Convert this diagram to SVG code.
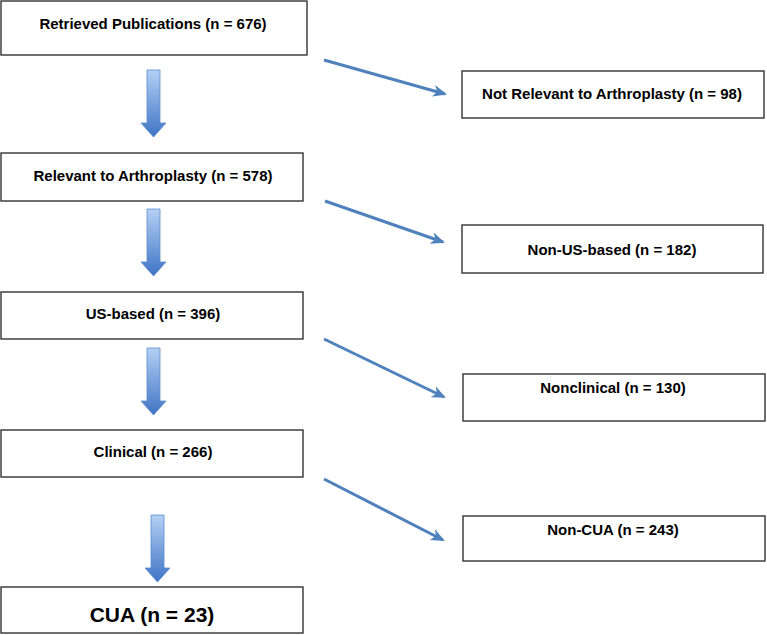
<svg xmlns="http://www.w3.org/2000/svg" width="767" height="635" viewBox="0 0 767 635">
<defs>
<linearGradient id="g" x1="0" y1="0" x2="0" y2="1">
<stop offset="0" stop-color="#b4d0f4"/>
<stop offset="1" stop-color="#3f74c4"/>
</linearGradient>
<marker id="ah" markerWidth="14" markerHeight="12" refX="12" refY="6" orient="auto" markerUnits="userSpaceOnUse" viewBox="0 0 14 12">
<path d="M0,0 L14,6 L0,12 L4,6 Z" fill="#4f81bd"/>
</marker>
<g id="down">
<path d="M-6.5,0 H6.5 V53 H12.5 L0,67 L-12.5,53 H-6.5 Z" fill="url(#g)" stroke="#5b8ad0" stroke-width="0.8"/>
</g>
</defs>
<style>
rect{fill:#fff;stroke:#333;stroke-width:1.4}
text{font-family:"Liberation Sans",Arial,sans-serif;font-weight:bold;font-size:15px;fill:#000;text-anchor:middle}
.diag{stroke:#4f81bd;stroke-width:3;fill:none;marker-end:url(#ah)}
</style>
<rect width="767" height="635" style="fill:#fff;stroke:none"/>
<g id="n1"><rect x="1" y="1" width="306" height="54"/><text x="153" y="29">Retrieved Publications (n = 676)</text></g>
<g id="n2"><rect x="1" y="153" width="302" height="48"/><text x="153" y="181">Relevant to Arthroplasty (n = 578)</text></g>
<g id="n3"><rect x="1" y="292" width="302" height="47"/><text x="153" y="319">US-based (n = 396)</text></g>
<g id="n4"><rect x="1" y="430" width="302" height="47"/><text x="153" y="457">Clinical (n = 266)</text></g>
<g id="n5"><rect x="1" y="587" width="302" height="46"/><text x="152" y="622" style="font-size:21px">CUA (n = 23)</text></g>
<g id="r1"><rect x="462" y="71" width="302" height="47"/><text x="612" y="99">Not Relevant to Arthroplasty (n = 98)</text></g>
<g id="r2"><rect x="462" y="225" width="301" height="48"/><text x="612" y="255">Non-US-based (n = 182)</text></g>
<g id="r3"><rect x="463" y="374" width="302" height="47"/><text x="613" y="393">Nonclinical (n = 130)</text></g>
<g id="r4"><rect x="463" y="516" width="302" height="45"/><text x="613" y="535">Non-CUA (n = 243)</text></g>
<g id="connectors">
<use href="#down" x="153.5" y="70"/>
<use href="#down" x="153.5" y="209"/>
<use href="#down" x="153.5" y="348"/>
<use href="#down" x="157.5" y="515"/>
<line class="diag" x1="324" y1="60" x2="445" y2="94"/>
<line class="diag" x1="325" y1="201" x2="443" y2="242"/>
<line class="diag" x1="324" y1="339" x2="444" y2="397"/>
<line class="diag" x1="324" y1="479" x2="443" y2="540"/>
</g>
</svg>
